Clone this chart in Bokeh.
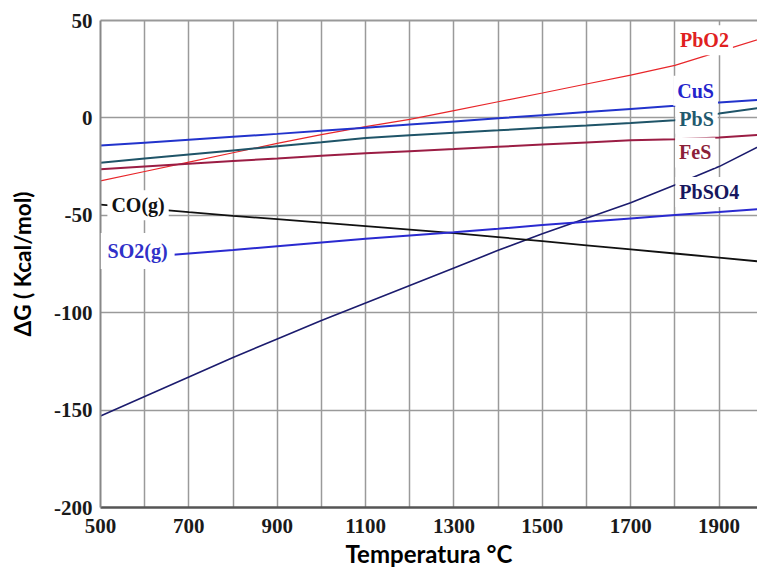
from bokeh.plotting import figure
from bokeh.models import FixedTicker, LinearAxis, Label, Range1d
from bokeh.embed import file_html
from bokeh.resources import INLINE

# ---- data -------------------------------------------------------------
temps = [500, 600, 700, 800, 900, 1000, 1100, 1200, 1300, 1400,
         1500, 1600, 1700, 1800, 1900, 2000]

pbo2 = [-32.3, -27.5, -22.7, -17.9, -13.1, -8.6, -4.5, -0.8, 3.7, 8.3,
        12.8, 17.4, 22.0, 27.0, 34.0, 41.0]
cus = [-14.2, -12.7, -11.2, -9.7, -8.2, -6.6, -5.0, -3.4, -1.8, -0.2,
       1.4, 3.0, 4.6, 6.2, 7.9, 9.4]
pbs = [-23.0, -20.9, -18.8, -16.7, -14.6, -12.5, -10.3, -8.9, -7.6, -6.4,
       -5.1, -3.9, -2.6, -1.2, 2.2, 5.4]
fes = [-26.3, -24.9, -23.5, -22.1, -20.8, -19.4, -18.2, -17.1, -16.0, -14.8,
       -13.7, -12.6, -11.5, -10.9, -10.1, -8.6]
pbso4 = [-153.0, -143.0, -133.0, -123.0, -113.5, -104.0, -95.0, -86.0, -77.0, -68.0,
         -59.5, -51.5, -43.5, -34.5, -25.0, -13.5]
co = [-44.5, -46.4, -48.4, -50.3, -52.0, -53.8, -55.6, -57.4, -59.2, -61.2,
      -63.3, -65.4, -67.5, -69.6, -71.7, -73.9]
so2 = [-73.3, -71.4, -69.6, -67.8, -65.9, -64.0, -62.1, -60.4, -58.7, -56.9,
       -55.0, -53.3, -51.6, -49.9, -48.3, -46.6]

x_grid = [500, 600, 700, 800, 900, 1000, 1100, 1200, 1300, 1400,
          1500, 1600, 1700, 1800, 1900, 2000]
x_ticks = [500, 700, 900, 1100, 1300, 1500, 1700, 1900]
y_ticks = [-200, -150, -100, -50, 0, 50]
y_tick_labels = ["-200", "-150", "-100", "-50", "0", "50"]

label_names = ["PbO2", "CuS", "PbS", "FeS", "PbSO4", "CO(g)", "SO2(g)"]
label_x = [1867, 1847, 1849, 1846, 1878, 585, 584]
label_y = [39.8, 13.9, -0.5, -17.7, -38.0, -44.9, -68.3]
label_pad = [4, 4, 4, 4, 4, 4, 7]

x_title = "Temperatura °C"
y_title = "ΔG ( Kcal/mol)"

# ---- styles -----------------------------------------------------------
series = [
    (pbo2, "#e8262a", 1.2),
    (cus, "#2233cc", 2.0),
    (pbs, "#1f5468", 2.0),
    (fes, "#9b1d44", 2.0),
    (pbso4, "#1c1c6e", 1.6),
    (co, "#111111", 1.8),
    (so2, "#2a2ad0", 2.0),
]
label_colors = ["#e02020", "#2424cc", "#1f5a6e", "#8b2038", "#17175e", "#111111", "#3030c8"]

p = figure(width=757, height=570,
           x_range=Range1d(500, 1987), y_range=Range1d(-200, 50),
           output_backend="svg", toolbar_location=None,
           min_border_left=100, min_border_right=0, min_border_top=20, min_border_bottom=63)
p.outline_line_color = None
p.background_fill_color = "white"
p.border_fill_color = "white"

# grids
p.xgrid.ticker = FixedTicker(ticks=x_grid)
p.ygrid.ticker = FixedTicker(ticks=y_ticks)
for g in (p.xgrid, p.ygrid):
    g.grid_line_color = "#9a9a9a"
    g.grid_line_width = 1.5

# axes
serif = "Liberation Serif"
p.xaxis.ticker = FixedTicker(ticks=x_ticks)
p.yaxis.ticker = FixedTicker(ticks=y_ticks)
p.yaxis.major_label_overrides = dict(zip(y_ticks, y_tick_labels))
for ax in (p.xaxis, p.yaxis):
    ax.major_tick_line_color = None
    ax.minor_tick_line_color = None
    ax.major_tick_out = 0
    ax.major_tick_in = 0
    ax.minor_tick_out = 0
    ax.major_label_text_font = serif
    ax.major_label_text_font_style = "bold"
    ax.major_label_text_font_size = "21px"
    ax.major_label_text_color = "#1a1a1a"
    ax.axis_label_text_font = "Lato"
    ax.axis_label_text_font_style = "bold"
    ax.axis_label_text_color = "#000000"

p.xaxis.axis_line_color = "#555555"
p.xaxis.axis_line_width = 2.5
p.xaxis.major_label_standoff = 11
p.xaxis.axis_label_standoff = 3
p.xaxis.axis_label = x_title
p.xaxis.axis_label_text_font_size = "24px"

p.yaxis.axis_line_color = "#888888"
p.yaxis.axis_line_width = 2
p.yaxis.major_label_standoff = 8
p.yaxis.axis_label_standoff = 15
p.yaxis.axis_label = y_title
p.yaxis.axis_label_text_font_size = "22.5px"

top = LinearAxis(ticker=FixedTicker(ticks=[]), axis_line_color="#999999", axis_line_width=2,
                 major_tick_line_color=None, minor_tick_line_color=None,
                 major_tick_out=0, major_tick_in=0, minor_tick_out=0,
                 major_label_text_font_size="0px")
p.add_layout(top, "above")

# lines
for ys, color, w in series:
    p.line(temps, ys, line_color=color, line_width=w)

# labels with white boxes (break the lines like the original)
for name, lx, ly, c, pad in zip(label_names, label_x, label_y, label_colors, label_pad):
    p.add_layout(Label(x=lx, y=ly, text=name, text_align="center", text_baseline="middle",
                       text_font=serif, text_font_style="bold", text_font_size="20px",
                       text_color=c, background_fill_color="white", padding=pad))

open("out.html", "w").write(file_html(p, INLINE))
